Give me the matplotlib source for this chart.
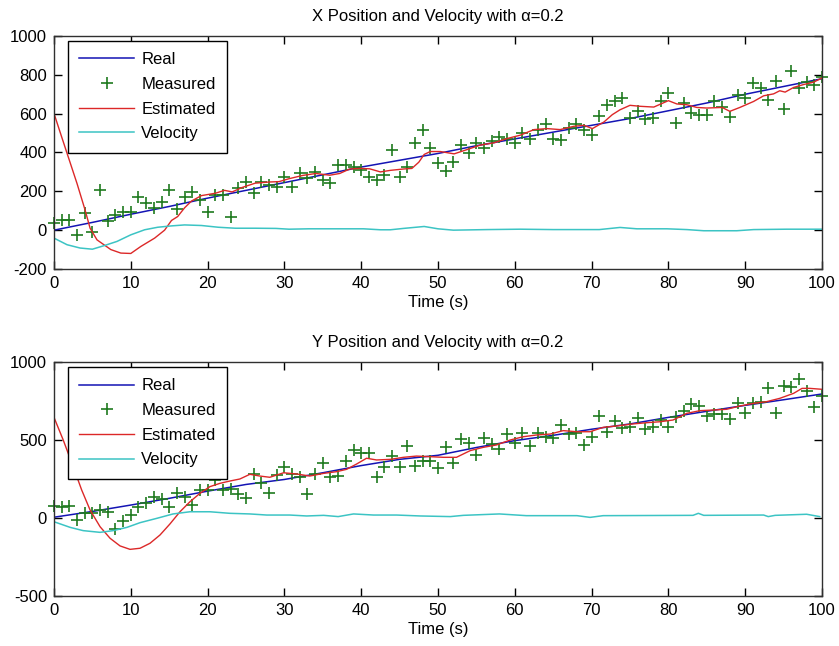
import numpy as np
import matplotlib
matplotlib.use("Agg")
import matplotlib.pyplot as plt

plt.rcParams['font.family'] = ['Liberation Sans', 'DejaVu Sans']
plt.rcParams['font.size'] = 12
plt.rcParams['axes.unicode_minus'] = False

# time of every measurement (s)
t_meas = list(range(0, 101))

# X axis data
x_meas = [35, 53, 53, -24, 87, -7, 207, 45, 79, 92, 92, 173, 139, 113, 147, 207, 108, 173, 199, 156,
          91, 181, 181, 70, 216, 250, 190, 250, 233, 224, 276, 224, 293, 267, 301, 259, 241, 336, 336, 327,
          310, 276, 259, 284, 413, 276, 327, 447, 514, 424, 344, 304, 350, 438, 395, 450, 424, 458, 479, 472,
          450, 501, 467, 518, 547, 472, 462, 526, 547, 518, 489, 586, 643, 667, 680, 578, 612, 574, 578, 663,
          706, 552, 655, 603, 595, 591, 663, 632, 583, 697, 680, 757, 733, 672, 766, 626, 822, 733, 762, 750,
          790]
real_t = [0, 5, 10, 15, 20, 25, 30, 35, 40, 45, 50, 55, 60, 65, 70, 75, 80, 85, 90, 95, 100]
x_real = [0, 40, 82, 122, 165, 205, 245, 285, 325, 360, 395, 435, 470, 505, 540, 575, 615, 655, 700, 740, 780]
x_est_t = [0, 1, 2, 3, 4, 4.7, 5.6, 7.4, 8.7, 10, 11.3, 13.1, 14.4, 15.3, 16.1, 17, 17.9, 19.2, 21, 22.2,
           23.2, 24.5, 26.2, 28, 29.3, 30.6, 32.4, 34.1, 35.9, 37.2, 38.5, 39.8, 41.1, 42.5, 43.8, 45.5, 46.6,
           47.5, 48.2, 49, 50.3, 52.1, 53.4, 55.5, 57.3, 59, 60.7, 62.5, 64.2, 65.9, 67.7, 69, 70.1, 71.6,
           72.7, 73.7, 75, 76.3, 78.1, 80, 81.1, 82.4, 83.7, 85, 87, 88, 89.3, 91.1, 92.4, 93.7, 94.5, 95.2,
           96.3, 97.6, 98.9, 100]
x_est = [601, 480, 360, 240, 110, 10, -50, -100, -118, -120, -84, -41, 0, 50, 70, 115, 150, 178, 190, 205,
         197, 220, 242, 248, 250, 265, 282, 292, 283, 292, 315, 318, 316, 300, 308, 315, 318,
         350, 390, 405, 405, 393, 410, 438, 450, 472, 489, 518, 523, 518, 535, 540, 523, 557,
         595, 620, 643, 638, 634, 667, 650, 646, 632, 629, 632, 612, 632, 663, 692, 702, 718, 711,
         735, 750, 762, 784]
x_vel_t = [0, 1.7, 3.4, 5, 6.5, 8.2, 10, 11.8, 13.5, 15.3, 17, 19.2, 21.4, 23.6, 26.2, 28.9, 30.6, 33.2,
           36.8, 40.3, 42.5, 43.8, 45.5, 48.2, 50, 52, 56.4, 60.7, 65, 71, 73.7, 75.9, 79.8, 82.4, 84.6,
           88.9, 91.1, 95.4, 100]
x_vel = [-41, -75, -92, -98, -80, -58, -24, 2, 15, 22, 27, 24, 15, 10, 10, 9, 5, 7,
         7, 7, 2, 2, 9, 19, 7, 0, 3, 5, 3, 3, 14, 7, 7, 3, -3,
         -3, 3, 5, 5]

# Y axis data
y_meas = [77, 72, 77, -13, 34, 30, 51, 40, -72, -17, 19, 68, 94, 137, 120, 72, 158, 137, 83, 180,
          180, 244, 180, 184, 154, 126, 282, 226, 162, 276, 325, 282, 261, 154, 282, 355, 265, 269, 367, 436,
          419, 415, 261, 329, 397, 325, 462, 333, 367, 367, 318, 457, 354, 504, 479, 404, 511, 474, 440, 538,
          483, 543, 462, 547, 521, 511, 596, 538, 547, 468, 517, 654, 553, 624, 578, 581, 639, 568, 585, 628,
          581, 645, 688, 731, 718, 654, 667, 667, 633, 735, 675, 735, 746, 831, 675, 846, 842, 889, 816, 710,
          782]
y_real = [5, 42, 83, 126, 172, 215, 247, 290, 336, 376, 402, 452, 496, 530, 569, 603, 645, 684, 722, 758, 795]
y_est_t = [0, 1.2, 2.5, 3.6, 4.7, 6, 7.3, 8.6, 9.9, 11.2, 12.5, 13.8, 15.1, 16.4, 17.7, 19, 20.3, 21.6,
           22.9, 24.2, 25.5, 26.8, 28.1, 29.9, 31.6, 33.3, 35.1, 36.8, 38.1, 39.4, 40.7, 42, 43.8, 45.5,
           47.2, 49, 50.7, 52.4, 54.2, 55.9, 57.6, 59.4, 61.1, 62.8, 64.6, 66.3, 68.1, 69.8, 71.5, 73.3,
           75.4, 77.2, 78.9, 80.6, 82.4, 84.1, 85.8, 87.6, 89.3, 91.1, 92.8, 94.5, 96.3, 97.4, 98.4, 100]
y_est = [645, 500, 329, 180, 51, -56, -130, -179, -201, -194, -162, -109, -38, 40, 104, 158, 201, 222,
         237, 250, 280, 269, 261, 290, 282, 269, 286, 297, 312, 346, 383, 372, 376, 389,
         397, 393, 389, 389, 432, 453, 468, 500, 521, 532, 538, 560, 553, 553, 581, 590,
         603, 611, 617, 628, 671, 688, 692, 697, 718, 735, 746, 767, 799, 831, 831, 825]
y_vel_t = [0, 2.1, 3.8, 6, 7.7, 9.5, 11.2, 13.4, 15.5, 17.7, 20.3, 22.9, 25.5, 27.7, 30.7, 32.9, 35.1, 37,
           39, 41.6, 44.6, 47.7, 51.6, 53.3, 58, 61.5, 68.1, 69.8, 71.5, 83.2, 83.9, 84.6, 92.4, 93, 93.9,
           98, 99.7]
y_vel = [-24, -60, -81, -92, -81, -60, -30, -2, 26, 40, 40, 30, 26, 19, 19, 13, 17, 9,
         26, 19, 19, 13, 9, 17, 26, 15, 15, 4, 15, 17, 30, 17, 19, 9, 17,
         24, 9]

fig = plt.figure(figsize=(8.39, 6.46), dpi=100)
ax1 = fig.add_axes([54 / 839, 1 - 269 / 646, 768 / 839, 233 / 646])
ax2 = fig.add_axes([54 / 839, 1 - 596 / 646, 768 / 839, 234 / 646])

panels = [
    (ax1, "X", x_meas, x_real, x_est_t, x_est, x_vel_t, x_vel, (-200, 1000), [-200, 0, 200, 400, 600, 800, 1000]),
    (ax2, "Y", y_meas, y_real, y_est_t, y_est, y_vel_t, y_vel, (-500, 1000), [-500, 0, 500, 1000]),
]

for ax, name, meas, real, est_t, est, vel_t, vel, ylim, yticks in panels:
    ax.plot(real_t, real, color='#1414b4', lw=1.1, label='Real')
    ax.plot(t_meas, meas, '+', color='#1f7a1f', ms=9, mew=1.2, label='Measured', clip_on=False)
    ax.plot(est_t, est, color='#dc2828', lw=1.0, label='Estimated')
    ax.plot(vel_t, vel, color='#3cc4c4', lw=1.1, label='Velocity')

    ax.set_xlim(0, 100)
    ax.set_ylim(*ylim)
    ax.set_xticks(range(0, 101, 10))
    ax.set_yticks(yticks)
    ax.tick_params(direction='in', top=True, right=True, length=6, width=1, pad=5, labelsize=12)
    for s in ax.spines.values():
        s.set_linewidth(1)
        s.set_color('#303030')
    ax.set_title(name + " Position and Velocity with α=0.2", fontsize=12, pad=11)
    ax.set_xlabel("Time (s)", fontsize=12, labelpad=3)

    leg = ax.legend(loc='upper left', bbox_to_anchor=(0.018, 0.98), borderaxespad=0,
                    fancybox=False, framealpha=1, edgecolor='black', fontsize=12,
                    handlelength=3.3, handletextpad=0.4, labelspacing=0.58, borderpad=0.7)
    leg.get_frame().set_linewidth(1)

fig.savefig("out.png", dpi=100)
